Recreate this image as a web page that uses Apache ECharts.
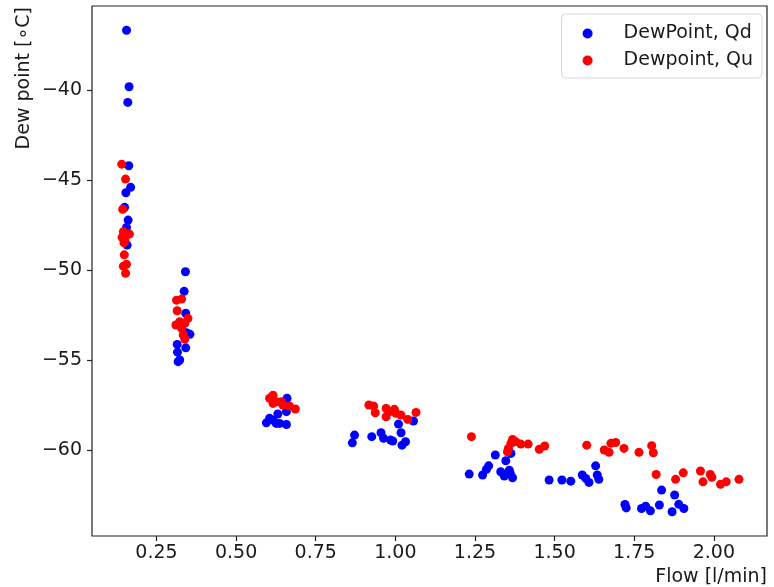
<!DOCTYPE html>
<html>
<head>
<meta charset="utf-8">
<script src="https://cdn.jsdelivr.net/npm/echarts@6/dist/echarts.min.js"></script>
<style>html,body{margin:0;padding:0;background:#fff}#c{width:774px;height:587px}</style>
</head>
<body>
<div id="c"></div>
<script>
const xTicks = [0.25, 0.50, 0.75, 1.00, 1.25, 1.50, 1.75, 2.00];
const yTicks = [-60, -55, -50, -45, -40];

const qdFlow = [
  0.156, 0.164, 0.160, 0.163, 0.169, 0.154, 0.150, 0.161, 0.156, 0.158,
  0.341, 0.337, 0.342, 0.344, 0.355, 0.315, 0.342, 0.316, 0.323, 0.318,
  0.660, 0.658, 0.631, 0.605, 0.616, 0.595, 0.637, 0.626, 0.658,
  1.057, 1.010, 1.018, 0.872, 0.865, 0.926, 0.955, 0.963, 0.985, 0.992, 1.032, 1.021,
  1.314, 1.363, 1.347, 1.293, 1.286, 1.274, 1.232, 1.331, 1.358, 1.342, 1.368, 1.361,
  1.483, 1.523, 1.551, 1.587, 1.598, 1.608, 1.629, 1.634, 1.639,
  1.721, 1.725, 1.773, 1.786, 1.801, 1.829, 1.836, 1.877, 1.869, 1.890, 1.906
];
const qdDew = [
  -36.65, -39.79, -40.66, -44.18, -45.38, -45.68, -46.49, -47.20, -47.61, -48.59,
  -50.07, -51.16, -52.38, -53.46, -53.55, -54.11, -54.30, -54.54, -54.98, -55.07,
  -57.11, -57.85, -57.98, -58.22, -58.32, -58.47, -58.50, -58.50, -58.56,
  -58.37, -58.54, -59.02, -59.15, -59.58, -59.24, -59.02, -59.33, -59.43, -59.48, -59.52, -59.71,
  -60.26, -60.17, -60.58, -60.86, -61.06, -61.37, -61.32, -61.19, -61.10, -61.43, -61.52, -61.28,
  -61.65, -61.65, -61.71, -61.37, -61.56, -61.78, -60.86, -61.37, -61.61,
  -63.01, -63.20, -63.23, -63.10, -63.36, -63.04, -62.21, -62.48, -63.41, -63.00, -63.23
];

const quFlow = [
  0.141, 0.153, 0.144, 0.146, 0.165, 0.142, 0.151, 0.148, 0.149, 0.156, 0.146, 0.153,
  0.313, 0.329, 0.315, 0.349, 0.323, 0.311, 0.339, 0.329, 0.334, 0.339,
  0.616, 0.605, 0.626, 0.642, 0.616, 0.647, 0.668, 0.686,
  0.917, 0.932, 0.937, 0.971, 0.981, 0.971, 0.997, 1.002, 1.018, 1.039, 1.065,
  1.239, 1.368, 1.363, 1.378, 1.394, 1.417, 1.355, 1.352, 1.452, 1.469,
  1.601, 1.656, 1.677, 1.692, 1.671, 1.718, 1.765, 1.805, 1.810,
  1.819, 1.880, 1.904, 1.958, 1.966, 1.989, 1.994, 2.021, 2.039, 2.079
];
const quDew = [
  -44.09, -44.92, -46.60, -47.85, -47.98, -48.16, -48.31, -48.46, -49.13, -49.66, -49.76, -50.16,
  -51.65, -51.59, -52.24, -52.66, -52.85, -53.03, -52.94, -53.22, -53.59, -53.81,
  -56.93, -57.11, -57.30, -57.30, -57.39, -57.48, -57.54, -57.70,
  -57.48, -57.54, -57.91, -57.67, -57.86, -58.13, -57.72, -57.94, -58.04, -58.28, -57.89,
  -59.24, -59.39, -59.61, -59.52, -59.65, -59.65, -59.89, -60.08, -59.94, -59.76,
  -59.71, -59.98, -59.61, -59.56, -60.11, -59.89, -60.11, -59.74, -60.13,
  -61.34, -61.61, -61.25, -61.15, -61.75, -61.34, -61.50, -61.89, -61.75, -61.61
];

const pair = (xs, ys) => xs.map((x, i) => [x, ys[i]]);
const FONT = 'DejaVu Sans';
const FS = 19;
const TXT = '#1a1a1a';
const fmtNum = v => (v < 0 ? '\u2212' : '') + Math.abs(v);

const chart = echarts.init(document.getElementById('c'), null, {renderer: 'canvas'});
chart.setOption({
  animation: false,
  backgroundColor: '#fff',
  grid: {left: 92, right: 7, top: 6, bottom: 51, show: true, borderColor: '#222', borderWidth: 1.2, backgroundColor: 'transparent'},
  xAxis: {
    type: 'value', min: 0.0476, max: 2.167,
    axisLine: {show: false},
    splitLine: {show: false},
    axisTick: {show: true, inside: false, length: 5, customValues: xTicks, lineStyle: {color: '#222', width: 1.2}},
    axisLabel: {customValues: xTicks, margin: 8, fontFamily: FONT, fontSize: FS, color: TXT, formatter: v => v.toFixed(2)}
  },
  yAxis: {
    type: 'value', min: -64.76, max: -35.30,
    axisLine: {show: false},
    splitLine: {show: false},
    axisTick: {show: true, inside: false, length: 5, customValues: yTicks, lineStyle: {color: '#222', width: 1.2}},
    axisLabel: {customValues: yTicks, margin: 10, fontFamily: FONT, fontSize: FS, color: TXT, formatter: fmtNum}
  },
  legend: {
    orient: 'vertical', right: 12, top: 14,
    padding: [10, 9, 8, 21],
    itemWidth: 10, itemHeight: 10, itemGap: 8,
    borderColor: '#d6d6d6', borderWidth: 1, borderRadius: 4,
    backgroundColor: 'rgba(255,255,255,0.8)',
    textStyle: {fontFamily: FONT, fontSize: 19, color: TXT, padding: [0, 0, 0, 26]},
    data: [
      {name: 'DewPoint, Qd', icon: 'circle'},
      {name: 'Dewpoint, Qu', icon: 'circle'}
    ]
  },
  graphic: [
    {type: 'text', x: 767, y: 577, style: {text: 'Flow [l/min]', fontFamily: FONT, fontSize: FS, fill: TXT, align: 'right', verticalAlign: 'middle'}},
    {type: 'text', x: 24, y: 7, rotation: Math.PI / 2, style: {text: 'Dew point [\u2218C]', fontFamily: FONT, fontSize: FS, fill: TXT, align: 'right', verticalAlign: 'middle'}}
  ],
  series: [
    {name: 'DewPoint, Qd', type: 'scatter', symbolSize: 9, itemStyle: {color: '#0000ff', opacity: 1}, data: pair(qdFlow, qdDew)},
    {name: 'Dewpoint, Qu', type: 'scatter', symbolSize: 9, itemStyle: {color: '#ff0000', opacity: 1}, data: pair(quFlow, quDew)}
  ]
});
</script>
</body>
</html>
